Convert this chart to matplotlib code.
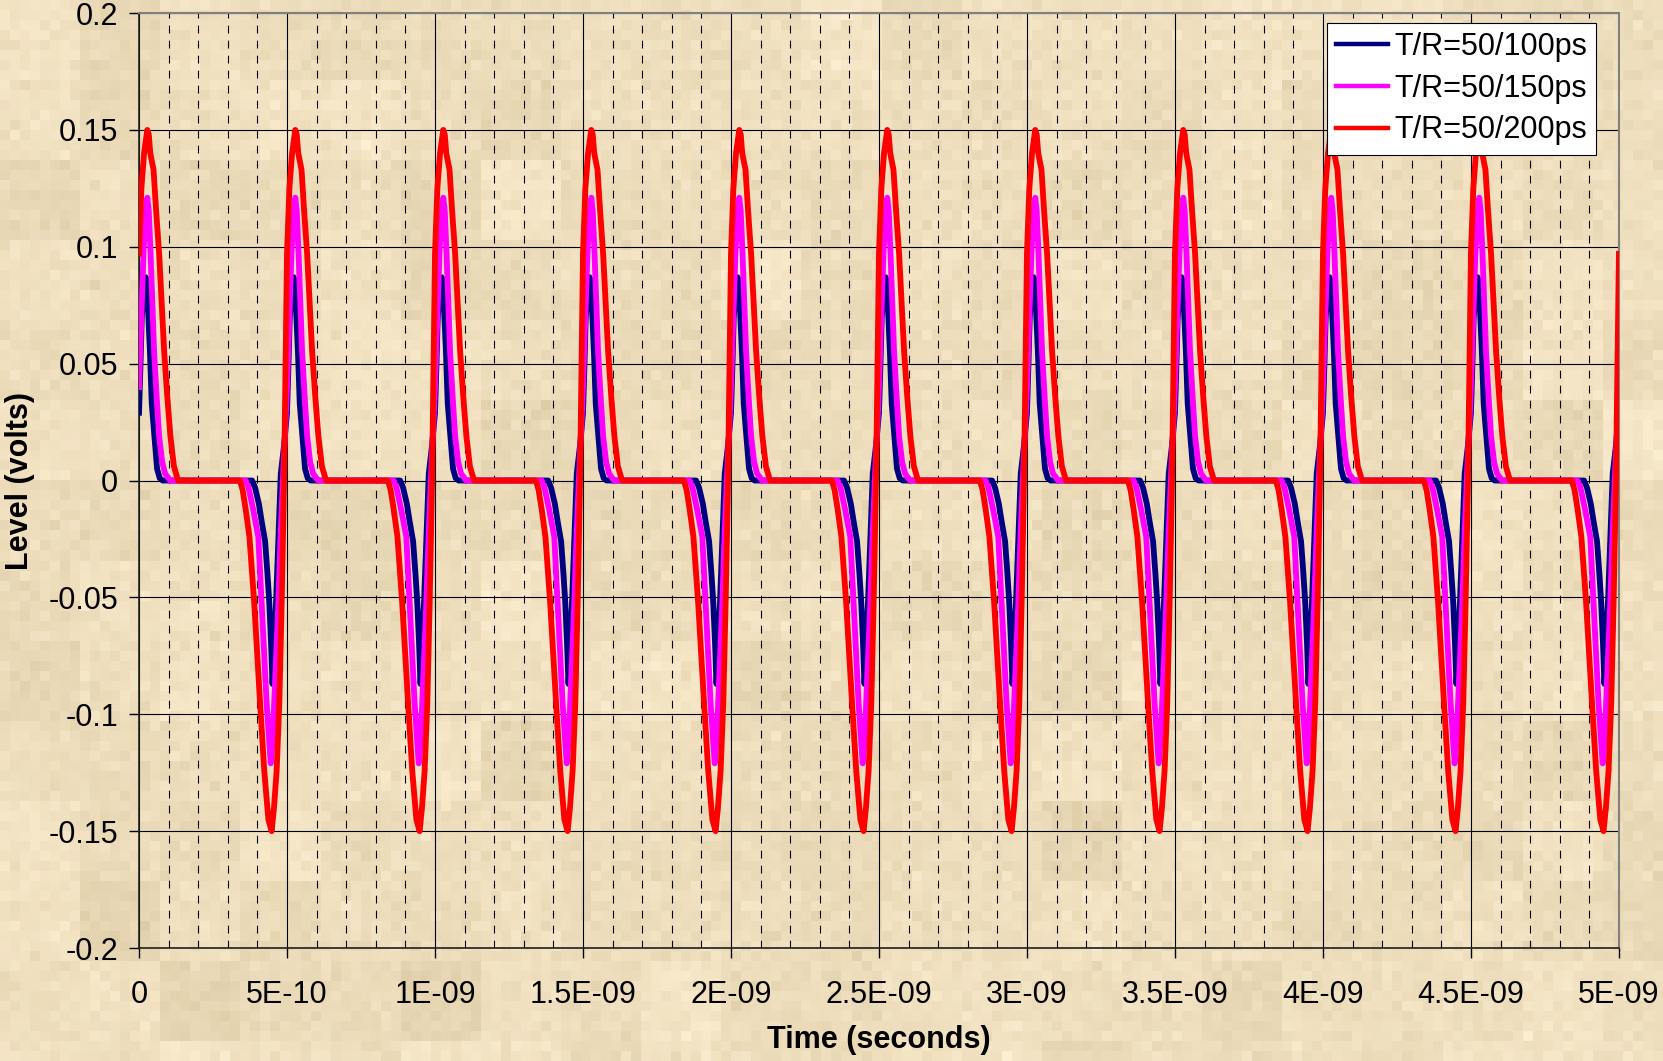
import numpy as np
import matplotlib
matplotlib.use("Agg")
import matplotlib.pyplot as plt
from matplotlib.ticker import FixedLocator, MultipleLocator

plt.rcParams['font.family'] = ['Liberation Sans', 'DejaVu Sans']

# one 500 ps cycle of each trace (time in ps, level in volts)
t_100 = [0, 5, 9, 16, 22, 26, 31, 37, 43, 52, 61, 70, 80,
         382, 392, 405, 415, 426, 434, 440, 446, 451, 454, 458, 463, 471, 479, 490]
v_100 = [0.029, 0.050, 0.069, 0.082, 0.087, 0.085, 0.072, 0.055, 0.033, 0.019, 0.005, 0.001, 0.0,
         0.0, -0.003, -0.010, -0.018, -0.026, -0.040, -0.052, -0.069, -0.087, -0.080, -0.065,
         -0.052, -0.024, 0.003, 0.015]

t_150 = [0, 8, 15, 22, 28, 33, 39, 51, 60, 68, 78, 88, 105,
         360, 370, 385, 403, 414, 431, 445, 452, 460, 470, 478, 486, 494]
v_150 = [0.040, 0.070, 0.097, 0.115, 0.121, 0.115, 0.097, 0.055, 0.035, 0.019, 0.008, 0.003, 0.0,
         0.0, -0.003, -0.012, -0.024, -0.052, -0.095, -0.121, -0.110, -0.085, -0.055, -0.025,
         0.0, 0.022]

t_200 = [0, 8, 17, 28, 33, 38, 49, 58, 68, 85, 96, 106, 118, 132,
         341, 350, 360, 373, 389, 409, 423, 437, 448, 456, 465, 474, 482, 490, 496]
v_200 = [0.097, 0.125, 0.140, 0.150, 0.148, 0.140, 0.133, 0.115, 0.097, 0.055, 0.035, 0.019,
         0.006, 0.0, 0.0, -0.004, -0.012, -0.024, -0.052, -0.095, -0.124, -0.145, -0.150,
         -0.140, -0.124, -0.095, -0.052, 0.0, 0.060]

labels = ['T/R=50/100ps', 'T/R=50/150ps', 'T/R=50/200ps']
colors = ['#000080', '#FF00FF', '#FF0000']

period_ps = 500
n_periods = 10
xtick_labels = ['0', '5E-10', '1E-09', '1.5E-09', '2E-09', '2.5E-09',
                '3E-09', '3.5E-09', '4E-09', '4.5E-09', '5E-09']
ytick_vals = [-0.2, -0.15, -0.1, -0.05, 0, 0.05, 0.1, 0.15, 0.2]
ytick_labels = ['-0.2', '-0.15', '-0.1', '-0.05', '0', '0.05', '0.1', '0.15', '0.2']


def repeat_cycle(t, v):
    t = np.asarray(t, float)
    v = np.asarray(v, float)
    tt = np.concatenate([t + k * period_ps for k in range(n_periods)] + [[n_periods * period_ps]])
    vv = np.concatenate([v] * n_periods + [[v[0]]])
    return tt * 1e-12, vv


fig = plt.figure(figsize=(16.63, 10.61), dpi=100)

# mottled beige backdrop
rng = np.random.default_rng(7)
fine = rng.normal(0, 1, (106, 166))
coarse = rng.normal(0, 1, (14, 21))
coarse = np.kron(coarse, np.ones((8, 8)))[:106, :166]
tex = 0.5 * fine + 0.5 * coarse
tex = (tex - tex.min()) / (tex.max() - tex.min())
light = np.array([254, 240, 212]) / 255
dark = np.array([222, 204, 166]) / 255
img = light[None, None, :] * (1 - tex[..., None]) + dark[None, None, :] * tex[..., None]
bg = fig.add_axes([0, 0, 1, 1], zorder=-1)
bg.imshow(img, aspect='auto', interpolation='nearest', extent=[0, 1, 0, 1])
bg.axis('off')

ax = fig.add_axes([0.0836, 0.1065, 0.8899, 0.8812])
ax.set_facecolor('none')

for t, v, lab, c in zip([t_100, t_150, t_200], [v_100, v_150, v_200], labels, colors):
    x, y = repeat_cycle(t, v)
    ax.plot(x, y, color=c, lw=4.2, label=lab, solid_joinstyle='round', zorder=3)

ax.set_xlim(0, 5e-9)
ax.set_ylim(-0.2, 0.2)
ax.xaxis.set_major_locator(FixedLocator(np.arange(11) * 5e-10))
ax.set_xticklabels(xtick_labels)
ax.xaxis.set_minor_locator(MultipleLocator(1e-10))
ax.yaxis.set_major_locator(FixedLocator(ytick_vals))
ax.set_yticklabels(ytick_labels)

ax.grid(which='major', color='black', lw=0.8)
ax.grid(which='minor', axis='x', color='black', lw=0.8, linestyle=(0, (7, 6.5)))
ax.set_axisbelow(True)

ax.tick_params(axis='x', which='major', direction='out', length=7, width=1,
               labelsize=22, pad=16)
ax.tick_params(axis='x', which='minor', length=0)
ax.tick_params(axis='y', direction='out', length=7, width=1, labelsize=22, pad=8)

for side in ['left', 'bottom']:
    ax.spines[side].set_color('#202020')
    ax.spines[side].set_linewidth(1.2)
for side in ['top', 'right']:
    ax.spines[side].set_color('#808080')
    ax.spines[side].set_linewidth(1.5)

ax.set_xlabel('Time (seconds)', fontsize=22, fontweight='bold', labelpad=11)
ax.set_ylabel('Level (volts)', fontsize=22, fontweight='bold', labelpad=10)

leg = ax.legend(loc='upper right', bbox_to_anchor=(0.9597, 0.9783),
                bbox_transform=fig.transFigure, borderaxespad=0,
                fontsize=22, frameon=True, fancybox=False, framealpha=1,
                handlelength=1.7, handletextpad=0.2, labelspacing=0.38,
                borderpad=0.3)
leg.get_frame().set_edgecolor('black')
leg.get_frame().set_linewidth(0.8)
for ln in leg.get_lines():
    ln.set_linewidth(3.2)

fig.savefig('out.png', dpi=100)
